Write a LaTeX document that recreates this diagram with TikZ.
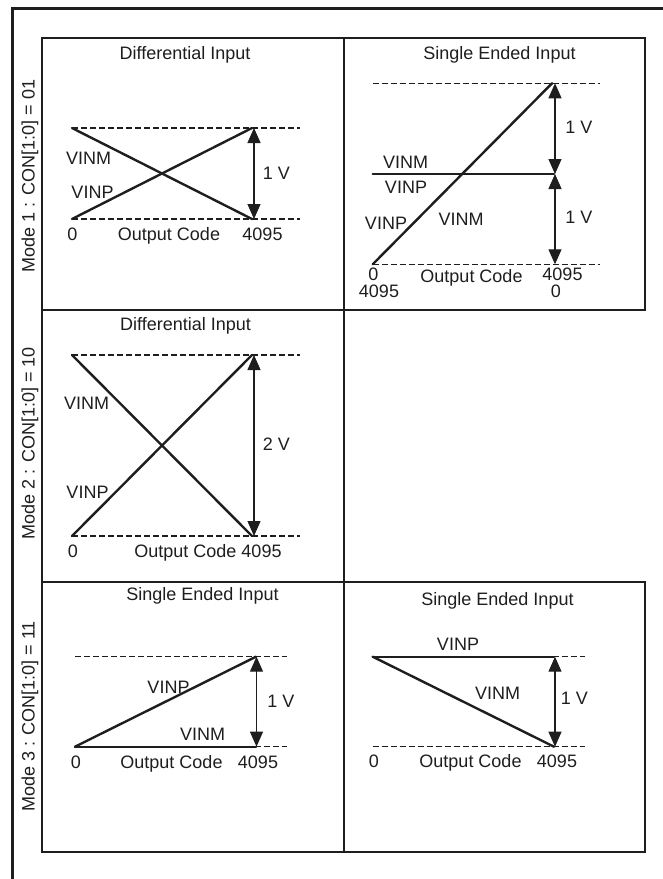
\documentclass[tikz,border=0pt]{standalone}
\usepackage{fontspec}
\setmainfont{Liberation Sans}
\usetikzlibrary{arrows.meta}
\definecolor{ink}{HTML}{1E1E1E}
\begin{document}
\begin{tikzpicture}[x=1pt,y=-1pt,
  outerline/.style={line width=3pt, draw=ink},
  frame/.style={line width=2.5pt, draw=ink},
  sig/.style={line width=2.4pt, draw=ink, line cap=round},
  guide/.style={line width=1.3pt, draw=ink, dash pattern=on 6pt off 3pt},
  span/.style={line width=1.1pt, draw=ink, {Triangle[length=15pt,width=13pt]}-{Triangle[length=15pt,width=13pt]}},
  lbl/.style={font=\fontsize{18}{21}\selectfont, inner sep=0pt, text=ink, anchor=base},
  modelbl/.style={font=\fontsize{18}{21}\selectfont, inner sep=0pt, text=ink, rotate=90, anchor=center},
]
\useasboundingbox (0,0) rectangle (663,879);

% outer frame (left and top edges only)
\coordinate (oBL) at (12,880);
\coordinate (oTL) at (12,8);
\coordinate (oTR) at (664,8);
\draw[outerline] (oBL) -- (oTL) -- (oTR);

% grid
\draw[frame] (42,38) rectangle (344,852);
\draw[frame] (344,38) rectangle (645,310);
\draw[frame] (344,582) rectangle (645,852);
\draw[frame] (42,310) -- (344,310);
\draw[frame] (42,582) -- (344,582);

% mode labels
\node[modelbl] (m1) at (30,176) {Mode 1 : CON[1:0] = 01};
\node[modelbl] (m2) at (30,443.5) {Mode 2 : CON[1:0] = 10};
\node[modelbl] (m3) at (30,716.5) {Mode 3 : CON[1:0] = 11};

% ---------- Panel 1: Mode 1 differential ----------
\node[lbl] (t1) at (185,59) {Differential Input};
\coordinate (p1a) at (72,128);
\coordinate (p1b) at (72,219);
\coordinate (p1c) at (252,128);
\coordinate (p1d) at (252,219);
\coordinate (p1e) at (300,128);
\coordinate (p1f) at (300,219);
\coordinate (p1u) at (254,128);
\coordinate (p1l) at (254,219);
\draw[guide] (p1a) -- (p1e);
\draw[guide] (p1b) -- (p1f);
\draw[sig] (p1a) -- (p1d);
\draw[sig] (p1b) -- (p1c);
\draw[span] (p1u) -- (p1l);
\node[lbl] (p1vm) at (88.5,164) {VINM};
\node[lbl] (p1vp) at (92.5,198) {VINP};
\node[lbl] (p1v) at (276.5,179) {1 V};
\node[lbl] (p1z) at (72.5,240) {0};
\node[lbl] (p1oc) at (169,240) {Output Code};
\node[lbl] (p1m) at (262.5,240) {4095};

% ---------- Panel 2: Mode 1 single ended ----------
\node[lbl] (t2) at (499.5,59) {Single Ended Input};
\coordinate (p2a) at (372.7,83.3);
\coordinate (p2e) at (600,83.3);
\coordinate (p2b) at (372.7,264.3);
\coordinate (p2f) at (600,264.3);
\coordinate (p2top) at (552,83.3);
\coordinate (p2ml) at (372.7,174);
\coordinate (p2mr) at (554,174);
\coordinate (p2u) at (555,83.3);
\coordinate (p2c) at (555,174);
\coordinate (p2l) at (555,264.3);
\draw[guide] (p2a) -- (p2e);
\draw[guide] (p2b) -- (p2f);
\draw[sig] (p2b) -- (p2top);
\draw[sig] (p2ml) -- (p2mr);
\draw[span] (p2u) -- (p2c);
\draw[span] (p2c) -- (p2l);
\node[lbl] (p2vm1) at (405.5,168) {VINM};
\node[lbl] (p2vp1) at (406,193) {VINP};
\node[lbl] (p2vp2) at (386,229) {VINP};
\node[lbl] (p2vm2) at (461,225) {VINM};
\node[lbl] (p2v1) at (579,133) {1 V};
\node[lbl] (p2v2) at (579,223) {1 V};
\node[lbl] (p2z1) at (373.5,280) {0};
\node[lbl] (p2m1) at (379,297) {4095};
\node[lbl] (p2oc) at (471.5,282) {Output Code};
\node[lbl] (p2m2) at (562.5,280) {4095};
\node[lbl] (p2z2) at (556,297) {0};

% ---------- Panel 3: Mode 2 differential ----------
\node[lbl] (t3) at (185.5,330) {Differential Input};
\coordinate (p3a) at (72,355);
\coordinate (p3b) at (72,536);
\coordinate (p3c) at (252,355);
\coordinate (p3d) at (252,536);
\coordinate (p3e) at (300,355);
\coordinate (p3f) at (300,536);
\coordinate (p3u) at (254,355);
\coordinate (p3l) at (254,536);
\draw[guide] (p3a) -- (p3e);
\draw[guide] (p3b) -- (p3f);
\draw[sig] (p3a) -- (p3d);
\draw[sig] (p3b) -- (p3c);
\draw[span] (p3u) -- (p3l);
\node[lbl] (p3vm) at (86.5,409) {VINM};
\node[lbl] (p3vp) at (87.5,498) {VINP};
\node[lbl] (p3v) at (276.5,450) {2 V};
\node[lbl] (p3z) at (73,557) {0};
\node[lbl] (p3oc) at (208,557) {Output Code 4095};

% ---------- Panel 4: Mode 3 single ended (left) ----------
\node[lbl] (t4) at (202.5,600) {Single Ended Input};
\coordinate (p4a) at (75,656.7);
\coordinate (p4e) at (287,656.7);
\coordinate (p4b) at (75,746.7);
\coordinate (p4f) at (287,746.7);
\coordinate (p4top) at (256,656.7);
\coordinate (p4bot) at (256,746.7);
\coordinate (p4u) at (256.5,656.7);
\coordinate (p4l) at (256.5,746.7);
\draw[guide] (p4a) -- (p4e);
\draw[guide] (p4b) -- (p4f);
\draw[sig] (p4b) -- (p4top);
\draw[sig] (p4b) -- (p4bot);
\draw[span] (p4u) -- (p4l);
\node[lbl] (p4vp) at (168.5,693) {VINP};
\node[lbl] (p4vm) at (202.5,740) {VINM};
\node[lbl] (p4v) at (281,707) {1 V};
\node[lbl] (p4z) at (76,768) {0};
\node[lbl] (p4oc) at (171.5,768) {Output Code};
\node[lbl] (p4m) at (258,768) {4095};

% ---------- Panel 5: Mode 3 single ended (right) ----------
\node[lbl] (t5) at (497.5,605) {Single Ended Input};
\coordinate (p5a) at (372.7,656.7);
\coordinate (p5e) at (585,656.7);
\coordinate (p5b) at (372.7,746.7);
\coordinate (p5f) at (585,746.7);
\coordinate (p5tr) at (554,656.7);
\coordinate (p5br) at (554,746.7);
\coordinate (p5u) at (555,656.7);
\coordinate (p5l) at (555,746.7);
\draw[guide] (p5a) -- (p5e);
\draw[guide] (p5b) -- (p5f);
\draw[sig] (p5a) -- (p5tr);
\draw[sig] (p5a) -- (p5br);
\draw[span] (p5u) -- (p5l);
\node[lbl] (p5vp) at (458,650) {VINP};
\node[lbl] (p5vm) at (497.5,699) {VINM};
\node[lbl] (p5v) at (574.5,704) {1 V};
\node[lbl] (p5z) at (374,767) {0};
\node[lbl] (p5oc) at (470.5,767) {Output Code};
\node[lbl] (p5m) at (557,767) {4095};
\end{tikzpicture}
\end{document}
